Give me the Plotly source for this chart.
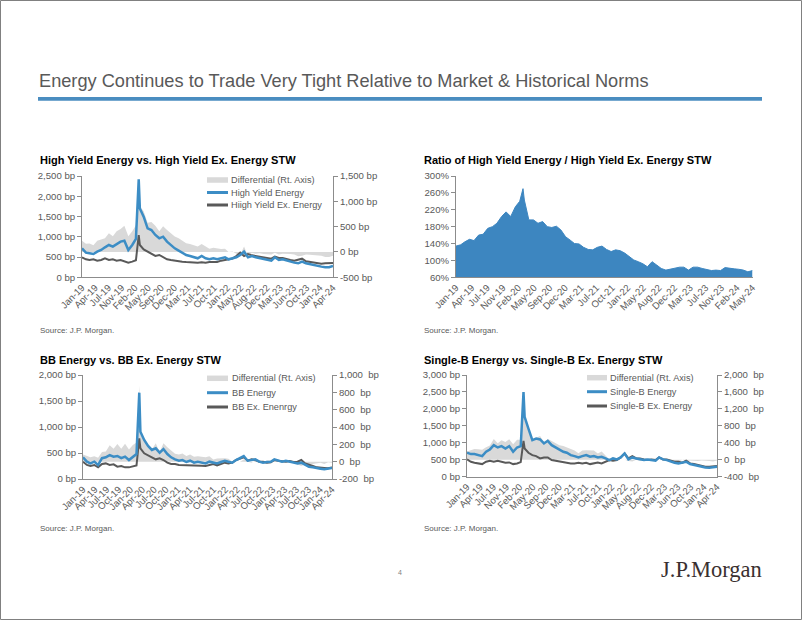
import pandas as pd
import plotly.graph_objects as go

W, H = 802, 620
def px(x): return x / W
def py(y): return 1 - y / H

# ---------------- data ----------------
MONTHS = pd.date_range("2019-01-01", "2024-06-01", freq="MS").strftime("%Y-%m-%d").tolist()
DATES = MONTHS[:15] + ["2020-03-23"] + MONTHS[15:]

HY_ENERGY = [715, 608, 592, 575, 633, 674, 740, 797, 756, 822, 880, 904,
             674, 797, 950, 2417, 1700, 1496, 1208, 1167, 1044, 962, 1003, 880, 797,
             715, 658, 608, 551, 526, 493, 469, 526, 469, 444, 469, 444,
             469, 493, 444, 469, 493, 551, 633, 493, 526, 493, 469, 444,
             427, 411, 493, 427, 444, 411, 386, 362, 345, 386, 345, 321,
             304, 280, 263, 247, 247, 280]
HY_EX_ENERGY = [493, 444, 427, 444, 411, 427, 469, 427, 444, 411, 427, 386,
                362, 386, 420, 1044, 797, 690, 633, 575, 526, 551, 493, 444, 427,
                411, 386, 386, 378, 370, 362, 362, 370, 362, 378, 386, 378,
                411, 427, 444, 460, 526, 608, 526, 575, 542, 526, 493, 485,
                469, 460, 510, 477, 477, 444, 427, 411, 427, 460, 394, 378,
                362, 345, 337, 345, 345, 353]

HY_RATIO = [134, 137, 144, 150, 147, 160, 162, 176, 180, 188, 204, 215,
            204, 227, 240, 270, 243, 196, 196, 188, 192, 180, 178, 181, 172,
            156, 148, 140, 139, 131, 126, 125, 131, 134, 126, 121, 125,
            123, 117, 109, 101, 97, 92, 85, 97, 89, 81, 77, 79,
            81, 84, 84, 77, 84, 84, 81, 79, 76, 77, 76, 83,
            81, 80, 79, 77, 73, 76]

BB_ENERGY = [417, 333, 300, 333, 270, 400, 417, 460, 430, 442, 400, 430,
             365, 430, 480, 1660, 910, 750, 635, 558, 590, 506, 577, 480, 417,
             378, 352, 365, 327, 352, 314, 333, 314, 300, 333, 314, 300,
             327, 352, 333, 314, 365, 397, 442, 352, 365, 378, 333, 314,
             327, 333, 378, 352, 333, 352, 333, 314, 300, 314, 270, 237,
             224, 205, 199, 186, 199, 212]
BB_EX_ENERGY = [333, 270, 250, 270, 224, 288, 300, 270, 282, 237, 250, 224,
                224, 237, 260, 782, 590, 494, 462, 417, 378, 397, 365, 314, 288,
                288, 270, 270, 263, 270, 256, 270, 256, 250, 270, 288, 263,
                288, 314, 300, 314, 365, 397, 417, 352, 378, 365, 333, 333,
                314, 320, 365, 352, 346, 333, 346, 327, 333, 365, 300, 270,
                250, 224, 212, 212, 205, 224]

B_ENERGY = [706, 666, 666, 637, 608, 735, 804, 931, 862, 902, 833, 902,
            735, 862, 900, 2500, 1764, 1421, 1078, 1127, 1098, 980, 1058, 931, 862,
            784, 735, 706, 637, 608, 568, 608, 637, 588, 608, 568, 588,
            539, 490, 539, 510, 568, 686, 510, 568, 539, 510, 490, 510,
            490, 470, 568, 510, 490, 441, 412, 392, 412, 441, 372, 343,
            314, 294, 274, 265, 274, 294]
B_EX_ENERGY = [510, 441, 412, 392, 372, 441, 470, 441, 470, 441, 412, 421,
               372, 392, 430, 1058, 833, 706, 637, 608, 539, 568, 568, 490, 470,
               441, 412, 412, 392, 392, 412, 392, 412, 372, 392, 421, 392,
               441, 490, 470, 490, 568, 686, 539, 608, 539, 539, 510, 490,
               510, 490, 568, 510, 510, 470, 441, 441, 412, 470, 392, 372,
               343, 314, 294, 294, 314, 314]

HY_DIFF = [a - b for a, b in zip(HY_ENERGY, HY_EX_ENERGY)]
BB_DIFF = [a - b for a, b in zip(BB_ENERGY, BB_EX_ENERGY)]
B_DIFF = [a - b for a, b in zip(B_ENERGY, B_EX_ENERGY)]

XLAB_A = ["Jan-19", "Apr-19", "Jul-19", "Nov-19", "Feb-20", "May-20", "Sep-20", "Dec-20",
          "Mar-21", "Jul-21", "Oct-21", "Jan-22", "May-22", "Aug-22", "Dec-22", "Mar-23",
          "Jun-23", "Oct-23", "Jan-24", "Apr-24"]
XLAB_RATIO = ["Jan-19", "Apr-19", "Jul-19", "Nov-19", "Feb-20", "May-20", "Sep-20", "Dec-20",
              "Mar-21", "Jul-21", "Oct-21", "Jan-22", "May-22", "Aug-22", "Dec-22", "Mar-23",
              "Jul-23", "Nov-23", "Feb-24", "May-24"]
XLAB_BB = ["Jan-19", "Apr-19", "Jul-19", "Oct-19", "Jan-20", "Apr-20", "Jul-20", "Oct-20",
           "Jan-21", "Apr-21", "Jul-21", "Oct-21", "Jan-22", "Apr-22", "Jul-22", "Oct-22",
           "Jan-23", "Apr-23", "Jul-23", "Oct-23", "Jan-24", "Apr-24"]

HY_L_VALS = [0, 500, 1000, 1500, 2000, 2500]
HY_L_TEXT = ["0 bp", "500 bp", "1,000 bp", "1,500 bp", "2,000 bp", "2,500 bp"]
HY_R_VALS = [-500, 0, 500, 1000, 1500]
HY_R_TEXT = ["-500 bp", "0 bp", "500 bp", "1,000 bp", "1,500 bp"]
RATIO_VALS = [60, 100, 140, 180, 220, 260, 300]
RATIO_TEXT = ["60%", "100%", "140%", "180%", "220%", "260%", "300%"]
BB_L_VALS = [0, 500, 1000, 1500, 2000]
BB_L_TEXT = ["0 bp", "500 bp", "1,000 bp", "1,500 bp", "2,000 bp"]
BB_R_VALS = [-200, 0, 200, 400, 600, 800, 1000]
BB_R_TEXT = ["-200\u00a0 bp", "0\u00a0 bp", "200\u00a0 bp", "400\u00a0 bp", "600\u00a0 bp",
             "800\u00a0 bp", "1,000\u00a0 bp"]
B_L_VALS = [0, 500, 1000, 1500, 2000, 2500, 3000]
B_L_TEXT = ["0 bp", "500 bp", "1,000 bp", "1,500 bp", "2,000 bp", "2,500 bp", "3,000 bp"]
B_R_VALS = [-400, 0, 400, 800, 1200, 1600, 2000]
B_R_TEXT = ["-400\u00a0 bp", "0\u00a0 bp", "400\u00a0 bp", "800\u00a0 bp", "1,200\u00a0 bp",
            "1,600\u00a0 bp", "2,000\u00a0 bp"]

# ---------------- style ----------------
FONT = "Liberation Sans, Arial, sans-serif"
GREY_TXT = "#595959"
AXIS = "#8c8c8c"
BLUE = "#3c8dc5"
DARK = "#595959"
DIFF = "#d9d9d9"
AREA = "#3d86c0"
X0, X1 = MONTHS[0], MONTHS[-1]


def tickpos(n):
    return pd.date_range(X0, X1, periods=n).strftime("%Y-%m-%d %H:%M").tolist()


def xcfg(dom, anchor, labels):
    return dict(domain=[px(dom[0]), px(dom[1])], anchor=anchor, type="date",
                range=[X0, X1], tickmode="array", tickvals=tickpos(len(labels)),
                ticktext=labels, tickangle=-45, showline=True, linecolor=AXIS,
                linewidth=1, ticks="", showgrid=False, zeroline=False, automargin=False,
                tickfont=dict(family=FONT, size=9.6, color=GREY_TXT))


def ycfg(rng, vals, text, side, anchor, dom=None, overlay=None):
    d = dict(range=rng, tickmode="array", tickvals=vals, ticktext=text, side=side,
             anchor=anchor, showline=True, linecolor=AXIS, linewidth=1, ticks="outside",
             ticklen=4, tickcolor=AXIS, showgrid=False, zeroline=False, automargin=False,
             tickfont=dict(family=FONT, size=9.6, color=GREY_TXT))
    if dom is not None:
        d["domain"] = [py(dom[1]), py(dom[0])]
    if overlay is not None:
        d["overlaying"] = overlay
    return d


fig = go.Figure()

# chart 1
fig.add_trace(go.Scatter(x=DATES, y=HY_DIFF, xaxis="x", yaxis="y", mode="lines",
                         fill="tozeroy", fillcolor=DIFF, line=dict(width=0, color=DIFF)))
fig.add_trace(go.Scatter(x=DATES, y=HY_EX_ENERGY, xaxis="x", yaxis="y2", mode="lines",
                         line=dict(color=DARK, width=2)))
fig.add_trace(go.Scatter(x=DATES, y=HY_ENERGY, xaxis="x", yaxis="y2", mode="lines",
                         line=dict(color=BLUE, width=2.5)))
# chart 2
fig.add_trace(go.Scatter(x=DATES, y=HY_RATIO, xaxis="x2", yaxis="y3", mode="lines",
                         fill="tozeroy", fillcolor=AREA, line=dict(width=1, color=AREA)))
# chart 3
fig.add_trace(go.Scatter(x=DATES, y=BB_DIFF, xaxis="x3", yaxis="y4", mode="lines",
                         fill="tozeroy", fillcolor=DIFF, line=dict(width=0, color=DIFF)))
fig.add_trace(go.Scatter(x=DATES, y=BB_EX_ENERGY, xaxis="x3", yaxis="y5", mode="lines",
                         line=dict(color=DARK, width=2)))
fig.add_trace(go.Scatter(x=DATES, y=BB_ENERGY, xaxis="x3", yaxis="y5", mode="lines",
                         line=dict(color=BLUE, width=2.5)))
# chart 4
fig.add_trace(go.Scatter(x=DATES, y=B_DIFF, xaxis="x4", yaxis="y6", mode="lines",
                         fill="tozeroy", fillcolor=DIFF, line=dict(width=0, color=DIFF)))
fig.add_trace(go.Scatter(x=DATES, y=B_EX_ENERGY, xaxis="x4", yaxis="y7", mode="lines",
                         line=dict(color=DARK, width=2)))
fig.add_trace(go.Scatter(x=DATES, y=B_ENERGY, xaxis="x4", yaxis="y7", mode="lines",
                         line=dict(color=BLUE, width=2.5)))

C1 = (82, 333, 176, 277.3)
C2 = (456, 752.5, 176, 277.3)
C3 = (83, 332, 375, 479)
C4 = (467, 717, 375, 476.7)

fig.update_layout(
    xaxis=xcfg(C1[:2], "y", XLAB_A),
    yaxis=ycfg([-500, 1500], HY_R_VALS, HY_R_TEXT, "right", "x", dom=C1[2:]),
    yaxis2=ycfg([0, 2500], HY_L_VALS, HY_L_TEXT, "left", "x", overlay="y"),
    xaxis2=xcfg(C2[:2], "y3", XLAB_RATIO),
    yaxis3=ycfg([60, 300], RATIO_VALS, RATIO_TEXT, "left", "x2", dom=C2[2:]),
    xaxis3=xcfg(C3[:2], "y4", XLAB_BB),
    yaxis4=ycfg([-200, 1000], BB_R_VALS, BB_R_TEXT, "right", "x3", dom=C3[2:]),
    yaxis5=ycfg([0, 2000], BB_L_VALS, BB_L_TEXT, "left", "x3", overlay="y4"),
    xaxis4=xcfg(C4[:2], "y6", XLAB_A),
    yaxis6=ycfg([-400, 2000], B_R_VALS, B_R_TEXT, "right", "x4", dom=C4[2:]),
    yaxis7=ycfg([0, 3000], B_L_VALS, B_L_TEXT, "left", "x4", overlay="y6"),
)

shapes = []
annotations = []

# page border and title rule
shapes.append(dict(type="rect", xref="paper", yref="paper", x0=px(0.5), x1=px(801.5),
                   y0=py(619.5), y1=py(0.5), line=dict(color="#808080", width=1)))
shapes.append(dict(type="rect", xref="paper", yref="paper", x0=px(38), x1=px(762),
                   y0=py(100.7), y1=py(97), fillcolor="#4a8dc0", line=dict(width=0)))


def text(x, y, s, size, color=GREY_TXT, family=FONT, xanchor="left"):
    annotations.append(dict(x=px(x), y=py(y), xref="paper", yref="paper", text=s,
                            showarrow=False, xanchor=xanchor, yanchor="middle",
                            font=dict(family=family, size=size, color=color)))


text(37, 81, "Energy Continues to Trade Very Tight Relative to Market &amp; Historical Norms", 18.2)
text(38, 160, "<b>High Yield Energy vs. High Yield Ex. Energy STW</b>", 11, "#000000")
text(422, 160, "<b>Ratio of High Yield Energy / High Yield Ex. Energy STW</b>", 11, "#000000")
text(38, 360, "<b>BB Energy vs. BB Ex. Energy STW</b>", 11, "#000000")
text(422, 360, "<b>Single-B Energy vs. Single-B Ex. Energy STW</b>", 11, "#000000")
for (sx, sy) in [(38, 330), (422, 330), (38, 528), (422, 528)]:
    text(sx, sy, "Source: J.P. Morgan.", 8)
text(400, 572, "4", 7, "#7f7f7f", xanchor="center")
text(711, 569, "J.P.Morgan", 22.5, "#3a3030", "Liberation Serif, Times New Roman, serif", "center")


def legend(x0, x1, tx, ys, labels):
    styles = [(DIFF, 5.5), (BLUE, 3), (DARK, 3)]
    for (col, w), yy, lab in zip(styles, ys, labels):
        shapes.append(dict(type="line", xref="paper", yref="paper", x0=px(x0), x1=px(x1),
                           y0=py(yy), y1=py(yy), line=dict(color=col, width=w)))
        text(tx, yy, lab, 9.2)


legend(207, 228, 229, [180, 192.5, 205],
       ["Differential (Rt. Axis)", "High Yield Energy", "Hiigh Yield Ex. Energy"])
legend(207, 228, 229.5, [378.3, 392.7, 407],
       ["Differential (Rt. Axis)", "BB Energy", "BB Ex. Enenrgy"])
legend(587, 607, 608, [377.7, 391.7, 406],
       ["Differential (Rt. Axis)", "Single-B Energy", "Single-B Ex. Energy"])

fig.update_layout(width=W, height=H, margin=dict(l=0, r=0, t=0, b=0, autoexpand=False),
                  paper_bgcolor="white", plot_bgcolor="white", showlegend=False,
                  hovermode=False, shapes=shapes, annotations=annotations,
                  font=dict(family=FONT, color=GREY_TXT))

fig.write_html("out.html", config={"displayModeBar": False, "staticPlot": True})

# pin the figure to the page's top-left corner
with open("out.html", "r", encoding="utf-8") as f:
    html = f.read()
css = ("<style>html,body{margin:0;padding:0;overflow:hidden;}"
       ".plotly-graph-div{position:absolute !important;left:0;top:0;}</style>")
html = html.replace("<head>", "<head>" + css, 1)
with open("out.html", "w", encoding="utf-8") as f:
    f.write(html)
